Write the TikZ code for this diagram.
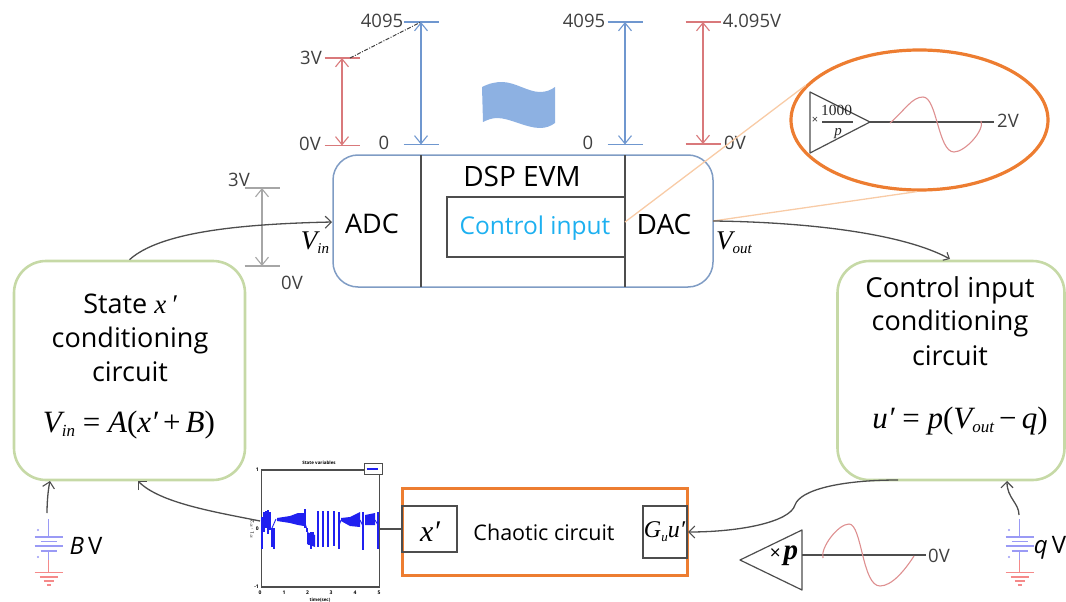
\documentclass[tikz,border=0pt]{standalone}
\usepackage{fontspec}
\usetikzlibrary{arrows.meta,shapes.geometric}
\setmainfont{Open Sans}
\newfontfamily\vfam{Liberation Serif}
\definecolor{boxblue}{HTML}{7F9CC4}
\definecolor{boxgreen}{HTML}{C6D9A6}
\definecolor{sorange}{HTML}{ED7D31}
\definecolor{lorange}{HTML}{F8CBA6}
\definecolor{dimred}{HTML}{D9797B}
\definecolor{dimblue}{HTML}{6F97CF}
\definecolor{dimgray}{HTML}{A6A6A6}
\definecolor{flagblue}{HTML}{8DB1E2}
\definecolor{linegray}{HTML}{4D4D4D}
\definecolor{cyantext}{HTML}{1DB0F0}
\definecolor{wavered}{HTML}{DE8F90}
\definecolor{batblue}{HTML}{9A9AF5}
\definecolor{batred}{HTML}{F58A8A}
\definecolor{plotblue}{HTML}{2020F0}
\newcommand{\fs}[1]{\fontsize{#1}{#1}\selectfont}
\newcommand{\mi}[1]{{\vfam\itshape #1}}
\newcommand{\lowsub}[3][15]{\raisebox{#2}{\fs{#1}\mi{#3}}}
\tikzset{
  x=1pt,y=-1pt,
  label26/.style={inner sep=0pt,font=\fs{27}},
  label17/.style={inner sep=0pt,font=\fs{18.5},text=black!75},
  greenbox/.style={draw=boxgreen,line width=2.6pt,rounded corners=32pt,inner sep=0pt},
  dspbox/.style={draw=boxblue,line width=1.5pt,rounded corners=25pt,inner sep=0pt},
  blackbox/.style={draw=linegray,line width=1.3pt,inner sep=0pt},
  flow/.style={draw=linegray,line width=1.3pt,-{Straight Barb[length=6pt,width=12pt,line width=1.1pt]}},
  dimtick/.style={line width=1.1pt},
  dimarrow/.style={line width=1.1pt,{Straight Barb[length=8pt,width=13pt]}-{Straight Barb[length=8pt,width=13pt]}},
  wave/.style={draw=wavered,line width=1.1pt},
  batline/.style={draw=batblue,line width=1.2pt},
  gndline/.style={draw=batred,line width=1.2pt},
}
\newcommand{\dimmark}[6]{% name,color,xc,half,ytop,ybot
  \coordinate (#1tl) at (#3-#4,#5);\coordinate (#1tr) at (#3+#4,#5);
  \coordinate (#1bl) at (#3-#4,#6);\coordinate (#1br) at (#3+#4,#6);
  \coordinate (#1t) at (#3,#5);\coordinate (#1b) at (#3,#6);
  \draw[dimtick,draw=#2] (#1tl) -- (#1tr);
  \draw[dimtick,draw=#2] (#1bl) -- (#1br);
  \draw[dimarrow,draw=#2] (#1t) -- (#1b);
}
\newcommand{\battery}[2]{% name, x
  \coordinate (#1a) at (#2,519);\coordinate (#1b) at (#2,537);
  \coordinate (#1c) at (#2,551);\coordinate (#1d) at (#2,560);\coordinate (#1e) at (#2,572);
  \draw[batline] (#1a) -- (#1b);
  \draw[batline] (#2-14,537) -- (#2+14,537);
  \draw[batline] (#2-8,541.5) -- (#2+8,541.5);
  \draw[batline] (#2-14,546) -- (#2+14,546);
  \draw[batline] (#2-8,551) -- (#2+8,551);
  \draw[batline] (#1c) -- (#1d);
  \draw[gndline] (#1d) -- (#1e);
  \draw[gndline] (#2-14,572.5) -- (#2+14,572.5);
  \draw[gndline] (#2-9,577) -- (#2+9,577);
  \draw[gndline] (#2-5,581) -- (#2+5,581);
  \draw[gndline] (#2-2,585) -- (#2+2,585);
  \fill[batblue] (#2-10.5,530) circle (1.2);
  \fill[batblue] (#2-10.5,557) circle (1.2);
}
\begin{document}
\begin{tikzpicture}
\useasboundingbox (0,0) rectangle (1066,602);
% main boxes
\node[dspbox,minimum width=380pt,minimum height=132pt] (dsp) at (523,221) {};
\node[greenbox,minimum width=231pt,minimum height=219pt] (state) at (129.5,370.5) {};
\node[greenbox,minimum width=227pt,minimum height=219pt] (ctrl) at (951,370.5) {};
\coordinate (v1t) at (421,155);\coordinate (v1b) at (421,287);
\coordinate (v2t) at (625,155);\coordinate (v2b) at (625,287);
\draw[blackbox] (v1t) -- (v1b);
\draw[blackbox] (v2t) -- (v2b);
\node[blackbox,draw,minimum width=178pt,minimum height=60pt] (ci) at (536,227) {};
\node[label26,font=\fs{28}] (dsptxt) at (522,176) {DSP EVM};
\node[label26,font=\fs{24.5},text=cyantext] (citxt) at (535,228) {Control input};
\node[label26] (adc) at (372,224) {ADC};
\node[label26,font=\fs{28}] (dac) at (664,224) {DAC};
\node[inner sep=0pt] (vin) at (315,243) {\fs{27}\mi{V}\lowsub{-4pt}{in}};
\node[inner sep=0pt] (vout) at (734,243) {\fs{27}\mi{V}\lowsub{-4pt}{out}};
% state box text
\node[label26] (s1) at (130,304) {State \mi{x}\,\mi{′}};
\node[label26] (s2) at (130,340) {conditioning};
\node[label26] (s3) at (130,372) {circuit};
\node[inner sep=0pt] (s4) at (129,425) {\fs{31}\mi{V}\lowsub[17]{-4pt}{in}{\vfam\ = }\mi{A}{\vfam(}\mi{x}\mi{′}{\vfam\,+\,}\mi{B}{\vfam)}};
% control box text
\node[label26,font=\fs{27.5}] (c1) at (950,290) {Control input};
\node[label26] (c2) at (950,323) {conditioning};
\node[label26] (c3) at (950,356) {circuit};
\node[inner sep=0pt] (c4) at (960,421) {\fs{31}\mi{u}\mi{′}{\vfam\ = }\mi{p}{\vfam(}\mi{V}\lowsub[17]{-4pt}{out}{\vfam\,−\,}\mi{q}{\vfam)}};
% dimension markers
\dimmark{ra}{dimred}{342}{17.5}{58}{145.5}
\dimmark{ba}{dimblue}{421}{17.5}{22}{144.5}
\dimmark{bb}{dimblue}{625}{17.5}{22}{144.5}
\dimmark{rb}{dimred}{703}{17.5}{22}{144}
\dimmark{ga}{dimgray}{262}{17.5}{188}{266}
\draw[line width=1pt,black!75,dash pattern=on 4pt off 1.5pt on 1pt off 1.5pt] (350,58) -- (bat);
\node[label17] (l3v) at (311,58) {3V};
\node[label17] (l0v) at (310,144) {0V};
\node[label17] (l4095a) at (382,21) {4095};
\node[label17] (l0a) at (384,143) {0};
\node[label17] (l4095b) at (584,21) {4095};
\node[label17] (l0b) at (588,143) {0};
\node[label17] (l4095v) at (752,21) {4.095V};
\node[label17] (l0vb) at (735,143) {0V};
\node[label17] (l3vg) at (239,180) {3V};
\node[label17] (l0vg) at (292,283) {0V};
% flag
\fill[flagblue] (482,87) .. controls (490,83) and (496,82) .. (502,82) .. controls (515,82) and (528,92) .. (540,92) .. controls (546,92) and (551,90) .. (555,87)
  -- (555,123) .. controls (551,126) and (546,128) .. (540,128) .. controls (526,128) and (510,118) .. (497,118) .. controls (492,118) and (487,120) .. (483,122) -- cycle;
% zoom ellipse
\coordinate (zfrom) at (625,222);
\coordinate (dacout) at (713,221);
\node[draw=sorange,line width=3.2pt,ellipse,minimum width=257pt,minimum height=140pt,inner sep=0pt] (zoomE) at (919.5,120) {};
\draw[lorange,line width=1.3pt] (zfrom) -- (zoomE.163);
\draw[lorange,line width=1.3pt] (dacout) -- (zoomE.268);
\coordinate (tz1) at (810,92);\coordinate (tz2) at (810,153);\coordinate (tz3) at (870,122);
\draw[linegray,line width=1.2pt,line join=round] (tz1) -- (tz2) -- (tz3) -- cycle;
\coordinate (lz) at (994,122);
\draw[linegray,line width=1.3pt] (tz3) -- (lz);
\node[label17] (l2v) at (1008,121) {2V};
\node[inner sep=0pt,text=black!80] (ztimes) at (815,120) {\fs{11}×};
\node[inner sep=0pt,text=black!85] (z1000) at (836.5,110) {\vfam\fs{15.5}1000};
\coordinate (fr1) at (822,122);\coordinate (fr2) at (853,122);
\draw[linegray,line width=1.2pt] (fr1) -- (fr2);
\node[inner sep=0pt,text=black!85] (zp) at (838,134) {\fs{15}\mi{p}};
\draw[wave] (890,123) .. controls (905,110) and (912,97) .. (923,97) .. controls (937,97) and (938,152) .. (954,152) .. controls (965,152) and (985,130) .. (981,121);
% chaotic box
\node[draw=sorange,line width=3pt,minimum width=285pt,minimum height=87pt,inner sep=0pt] (chaos) at (544.5,531.5) {};
\node[blackbox,draw,minimum width=55pt,minimum height=46pt] (xbox) at (429.5,529) {};
\node[blackbox,draw,minimum width=44pt,minimum height=52pt] (gbox) at (665,532) {};
\node[inner sep=0pt] (xlab) at (430,532) {\fs{30}\mi{x}\mi{′}};
\node[inner sep=0pt] (glab) at (664.5,532) {\fs{24}\mi{G}\lowsub[13]{-4pt}{u}\mi{u}\mi{′}};
\node[inner sep=0pt,font=\fs{21.5}] (cctxt) at (544,532) {Chaotic circuit};
% scope plot
\node[draw=linegray,line width=1.2pt,minimum width=118pt,minimum height=117pt,inner sep=0pt] (plot) at (320.5,528.5) {};
\node[draw=linegray,line width=1pt,fill=white,minimum width=18pt,minimum height=11pt,inner sep=0pt] (leg) at (373.5,469) {};
\draw[plotblue,line width=1.4pt] (366.5,469) -- (378,469);
\node[inner sep=0pt,font=\fs{4.5}\bfseries] (ptitle) at (319,463) {State variables};
\begin{scope}[plotblue,line width=1.8pt]
  \foreach \xa/\ya/\yb in {262/517/549,264/512/532,266/511/528,268/510/534,270/512/530,272/528/547,274/528/549,
     305/509/528,307/528/532,309/534/545,311/532/549,313/532/545,318/511/547,323/511/547,328/511/547,334/511/546,339/512/549,
     363/512/550,378/512/549}
    \draw (\xa,\ya) -- (\xa,\yb);
  \fill (277,518) -- (290,516) -- (298,513) -- (304,513) -- (304,526) -- (298,525) -- (290,523) -- (277,521) -- cycle;
  \fill (307,532) -- (315,535) -- (315,547) -- (307,544) -- cycle;
  \fill (341,518) -- (350,517) -- (360,512) -- (360,527) -- (350,526) -- (341,521) -- cycle;
  \fill (365,515) -- (375,513) -- (375,525) -- (365,525) -- cycle;
  \draw[line width=0.9pt,line join=round] (272,528) -- (276,519) (304,519) -- (307,530) (341,520) -- (339,526) (360,520) -- (363,526) (375,520) -- (378,525);
\end{scope}
\foreach \tx/\tl in {260/0,284/1,307.5/2,331/3,355/4,379/5}
  \node[inner sep=0pt,font=\fs{5}\bfseries] at (\tx,593) {\tl};
\foreach \ty/\tl in {470/1,529/0,587/{-1}}
  \node[inner sep=0pt,font=\fs{5}\bfseries,anchor=east] at (259,\ty) {\tl};
\node[inner sep=0pt,font=\fs{4.5}\bfseries] (pxl) at (320,600) {time(sec)};
\node[inner sep=0pt,font=\fs{4.5}\bfseries,rotate=90] (pyl) at (252,529) {$x_1,x_2$};
% bottom amplifier
\coordinate (ta1) at (740,560);\coordinate (ta2) at (802,530);\coordinate (ta3) at (802,590);
\draw[linegray,line width=1.2pt,line join=round] (ta1) -- (ta2) -- (ta3) -- cycle;
\coordinate (la1) at (802,555);\coordinate (la2) at (926,555);
\draw[linegray,line width=1.3pt] (la1) -- (la2);
\node[label17] (l0vc) at (939,556) {0V};
\node[inner sep=0pt] (timesp) at (784,556) {\fs{19}×\hspace{3pt}\fs{29}{\vfam\itshape\bfseries p}};
\draw[wave] (823,558) .. controls (820,548) and (838,524) .. (849,524) .. controls (862,524) and (862,586) .. (880,586) .. controls (892,586) and (905,570) .. (914,556);
% batteries
\battery{bl}{48.5}
\battery{br}{1019.5}
\node[inner sep=0pt,font=\fs{24}] (bv) at (86,546) {\textit{B}\,V};
\node[inner sep=0pt,font=\fs{24}] (qv) at (1050,548) {\textit{q}\,V};
% connectors
\draw[flow] (state.north) .. controls (160,232) and (240,224) .. (332,222);
\coordinate (voutend) at (950,259);
\draw[flow,-{Straight Barb[length=5pt,width=9pt,line width=1.1pt]}] (dacout) .. controls (800,222) and (900,232) .. (voutend);
\coordinate (stin) at (138,481);
\draw[flow] (260,521) .. controls (215,512) and (160,503) .. (stin);
\draw[linegray,line width=1.3pt] (plot.east |- 0,529) -- (xbox.west);
\coordinate (cfrom) at (898,480);
\coordinate (gin) at (688,532);
\draw[flow] (cfrom) .. controls (840,480) and (800,490) .. (795,505) .. controls (790,522) and (740,532) .. (gin);
\coordinate (blup) at (50,481);
\draw[flow] (47,513) .. controls (47,503) and (48,490) .. (blup);
\coordinate (brup) at (1007,481);
\draw[flow] (1019,515) .. controls (1019,503) and (1007,498) .. (brup);
\end{tikzpicture}
\end{document}
